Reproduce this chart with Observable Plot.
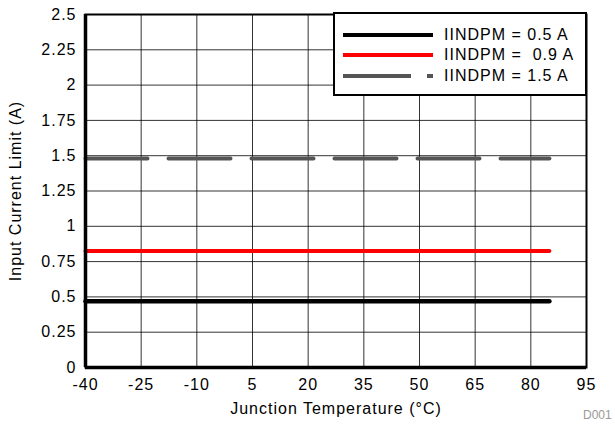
<!DOCTYPE html>
<html>
<head>
<meta charset="utf-8">
<script src="https://cdn.jsdelivr.net/npm/d3@7"></script>
<script src="https://cdn.jsdelivr.net/npm/@observablehq/plot@0.6"></script>
<style>
  body { margin: 0; background: #fff; font-family: "Liberation Sans", Arial, sans-serif; }
  #wrap { position: relative; width: 615px; height: 425px; }
  #legend { position: absolute; left: 333px; top: 12px; width: 250px; height: 80px; border: 2px solid #000; background: #fff; }
  .row { position: absolute; left: 8px; height: 20px; display: flex; align-items: center; font-size: 16px; letter-spacing: 1px; }
  .row svg { margin-right: 11px; }
  #code { position: absolute; left: 583px; top: 408px; font-size: 12px; color: #999; }
</style>
</head>
<body>
<div id="wrap"></div>
<script>
const temps = [-40, 85];
const i05 = [0.47, 0.47];
const i09 = [0.825, 0.825];
const i15 = [1.48, 1.48];
const seriesNames = ["IINDPM = 0.5 A", "IINDPM =  0.9 A", "IINDPM = 1.5 A"];
const seriesColors = ["#000000", "#ff0000", "#555555"];
const xTicks = [-40, -25, -10, 5, 20, 35, 50, 65, 80, 95];
const xTickLabels = ["-40", "-25", "-10", "5", "20", "35", "50", "65", "80", "95"];
const yTicks = [0, 0.25, 0.5, 0.75, 1, 1.25, 1.5, 1.75, 2, 2.25, 2.5];
const yTickLabels = ["0", "0.25", "0.5", "0.75", "1", "1.25", "1.5", "1.75", "2", "2.25", "2.5"];

const rows = (vals) => temps.map((t, i) => ({t, v: vals[i]}));

const chart = Plot.plot({
  width: 615,
  height: 425,
  marginLeft: 85,
  marginRight: 29,
  marginTop: 14,
  marginBottom: 58,
  style: { fontFamily: "Liberation Sans, Arial, sans-serif", fontSize: "16px", letterSpacing: "1px", color: "#000", background: "#fff" },
  x: { domain: [-40, 95] },
  y: { domain: [0, 2.5] },
  marks: [
    Plot.ruleX(xTicks, { stroke: "#000", strokeWidth: 1, strokeOpacity: 0.8 }),
    Plot.ruleY(yTicks, { stroke: "#000", strokeWidth: 1, strokeOpacity: 0.8 }),
    Plot.line(rows(i05), { x: "t", y: "v", stroke: seriesColors[0], strokeWidth: 4.5 }),
    Plot.line(rows(i09), { x: "t", y: "v", stroke: seriesColors[1], strokeWidth: 4 }),
    Plot.line(rows(i15), { x: "t", y: "v", stroke: seriesColors[2], strokeWidth: 4, strokeDasharray: "62,21" }),
    Plot.frame({ stroke: "#000", strokeWidth: 2 }),
    Plot.ruleX([-40], { stroke: "#000", strokeWidth: 3.5 }),
    Plot.ruleY([0], { stroke: "#000", strokeWidth: 3.5 }),
    Plot.axisX({ ticks: xTicks, tickSize: 0, tickPadding: 11, fontSize: 16,
      tickFormat: (d) => xTickLabels[xTicks.indexOf(d)],
      label: "Junction Temperature (°C)", labelAnchor: "center", labelArrow: "none", labelOffset: 46 }),
    Plot.axisY({ ticks: yTicks, tickSize: 0, tickPadding: 9, fontSize: 16,
      tickFormat: (d) => yTickLabels[yTicks.indexOf(d)],
      label: "Input Current Limit (A)", labelAnchor: "center", labelArrow: "none", labelOffset: 76 })
  ]
});
const wrap = document.getElementById("wrap");
wrap.appendChild(chart);

const legend = document.createElement("div");
legend.id = "legend";
const rowTops = [11, 31, 52];
seriesNames.forEach((name, i) => {
  const r = document.createElement("div");
  r.className = "row";
  r.style.top = rowTops[i] + "px";
  const dash = i === 2 ? 'stroke-dasharray="68,16,6,100"' : "";
  r.innerHTML = `<svg width="90" height="8"><line x1="0" y1="4" x2="90" y2="4" stroke="${seriesColors[i]}" stroke-width="4" ${dash}/></svg><span style="white-space:pre">${name}</span>`;
  legend.appendChild(r);
});
wrap.appendChild(legend);

const code = document.createElement("div");
code.id = "code";
code.textContent = "D001";
wrap.appendChild(code);
</script>
</body>
</html>
